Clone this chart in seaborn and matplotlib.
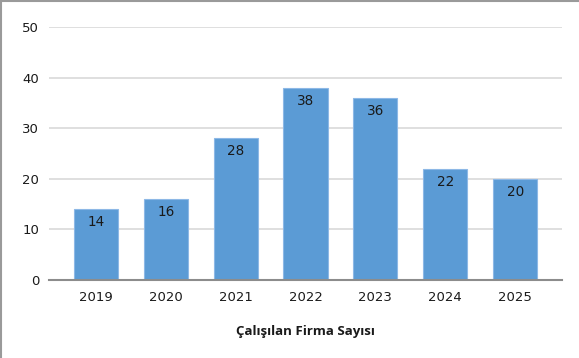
import matplotlib
matplotlib.use("Agg")
import matplotlib.pyplot as plt
import seaborn as sns
import pandas as pd
from matplotlib.lines import Line2D

years = ["2019", "2020", "2021", "2022", "2023", "2024", "2025"]
values = [14, 16, 28, 38, 36, 22, 20]
yticks = [0, 10, 20, 30, 40, 50]
xlabel = "Çalışılan Firma Sayısı"

df = pd.DataFrame({"year": years, "value": values})

sns.set_theme(style="white")
plt.rcParams['font.family'] = ['DejaVu Sans']

fig = plt.figure(figsize=(5.79, 3.58), dpi=100)
ax = fig.add_axes([49/579, 1-280/358, (562-49)/579, (280-27)/358])

sns.barplot(data=df, x="year", y="value", color="#5B9BD5", width=0.63,
            edgecolor="#8DB8E6", linewidth=0.8, saturation=1, ax=ax, zorder=3)

ax.set_xlim(-0.67, 6.67)
ax.set_ylim(0, 50)
ax.set_yticks(yticks)
ax.yaxis.grid(True, color="#D9D9D9", linewidth=1.2, zorder=0)
ax.set_axisbelow(True)
for s in ["top", "right", "left"]:
    ax.spines[s].set_visible(False)
ax.spines["bottom"].set_color("#8C8C8C")
ax.spines["bottom"].set_linewidth(1.5)
ax.spines["bottom"].set_zorder(4)
ax.tick_params(axis="y", length=0, labelsize=9.5, colors="#1a1a1a", pad=7)
ax.tick_params(axis="x", length=0, labelsize=9.5, colors="#1a1a1a", pad=8)
ax.set_ylabel("")
ax.set_xlabel(xlabel, fontsize=9.5, fontweight="bold", labelpad=15,
              color="#1a1a1a", family=["Open Sans", "DejaVu Sans"])

for c in ax.containers:
    ax.bar_label(c, labels=[str(v) for v in values], padding=-14.5, fontsize=9.8, color="#1a1a1a")

# figure border (left and top)
fig.add_artist(Line2D([0.5/579, 0.5/579], [0, 1], transform=fig.transFigure, color="#9a9a9a", linewidth=1.5))
fig.add_artist(Line2D([0, 1], [1-0.5/358, 1-0.5/358], transform=fig.transFigure, color="#9a9a9a", linewidth=1.5))

fig.savefig("out.png", dpi=100, facecolor="white")
